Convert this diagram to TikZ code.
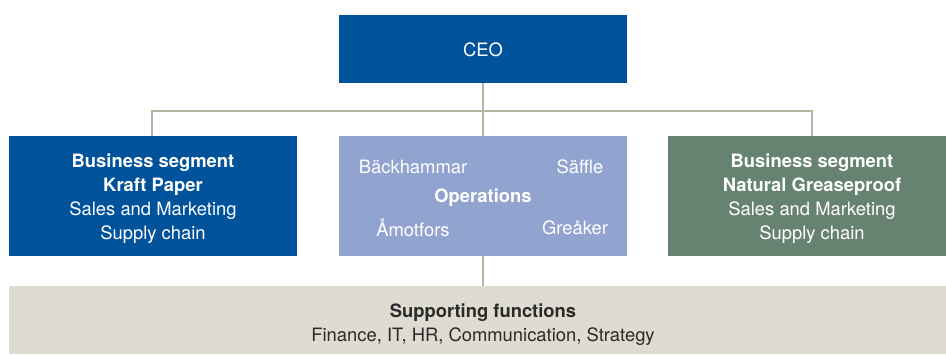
\documentclass[tikz,border=0pt]{standalone}
\usepackage{fontspec}
\setmainfont{TeX Gyre Heros}
\definecolor{ceoblue}{HTML}{00529B}
\definecolor{opsblue}{HTML}{91A3CF}
\definecolor{greengray}{HTML}{668371}
\definecolor{beige}{HTML}{DEDBD0}
\definecolor{linecol}{HTML}{B7B4A2}
\definecolor{darktext}{HTML}{2A2A2A}
\begin{document}
\begin{tikzpicture}[x=1pt,y=-1pt,
  box/.style={rectangle, inner sep=0pt, minimum width=288pt},
  txt/.style={inner sep=0pt, align=center, text=white, font=\fontsize{18.4}{24}\selectfont},
  conn/.style={draw=linecol, line width=2pt}]
\clip (0,0) rectangle (946,354);
\fill[white] (0,0) rectangle (946,354);
\coordinate (hl) at (152,111);
\coordinate (hr) at (812,111);
\node[box, fill=ceoblue, minimum height=68pt] (ceo) at (483,49) {};
\node[txt] (ceot) at (483,50) {CEO};
\node[box, fill=ceoblue, minimum height=120pt] (kraft) at (153,196) {};
\node[txt] (kraftt) at (153,199)
  {\textbf{Business segment}\\\textbf{Kraft Paper}\\Sales and Marketing\\Supply chain};
\node[box, fill=opsblue, minimum height=120pt] (ops) at (483,196) {};
\node[txt] (opst) at (483,198) {\textbf{Operations}};
\node[box, fill=greengray, minimum height=120pt] (ngp) at (812,196) {};
\node[txt] (ngpt) at (812,199)
  {\textbf{Business segment}\\\textbf{Natural Greaseproof}\\Sales and Marketing\\Supply chain};
\node[box, fill=beige, minimum width=947pt, minimum height=68pt] (sup) at (482.5,320) {};
\node[txt, text=darktext] (supt) at (483,325)
  {\textbf{Supporting functions}\\Finance, IT, HR, Communication, Strategy};
\node[txt] (b1) at (413,167) {Bäckhammar};
\node[txt] (b2) at (580,167) {Säffle};
\node[txt] (b3) at (413,228) {Åmotfors};
\node[txt] (b4) at (575,228) {Greåker};
\draw[conn] (ceo.south) -- (ops.north);
\draw[conn] (kraft.north -| hl) -- (hl) -- (hr) -- (ngp.north -| hr);
\draw[conn] (ops.south) -- (sup.north -| ops.south);
\end{tikzpicture}
\end{document}
